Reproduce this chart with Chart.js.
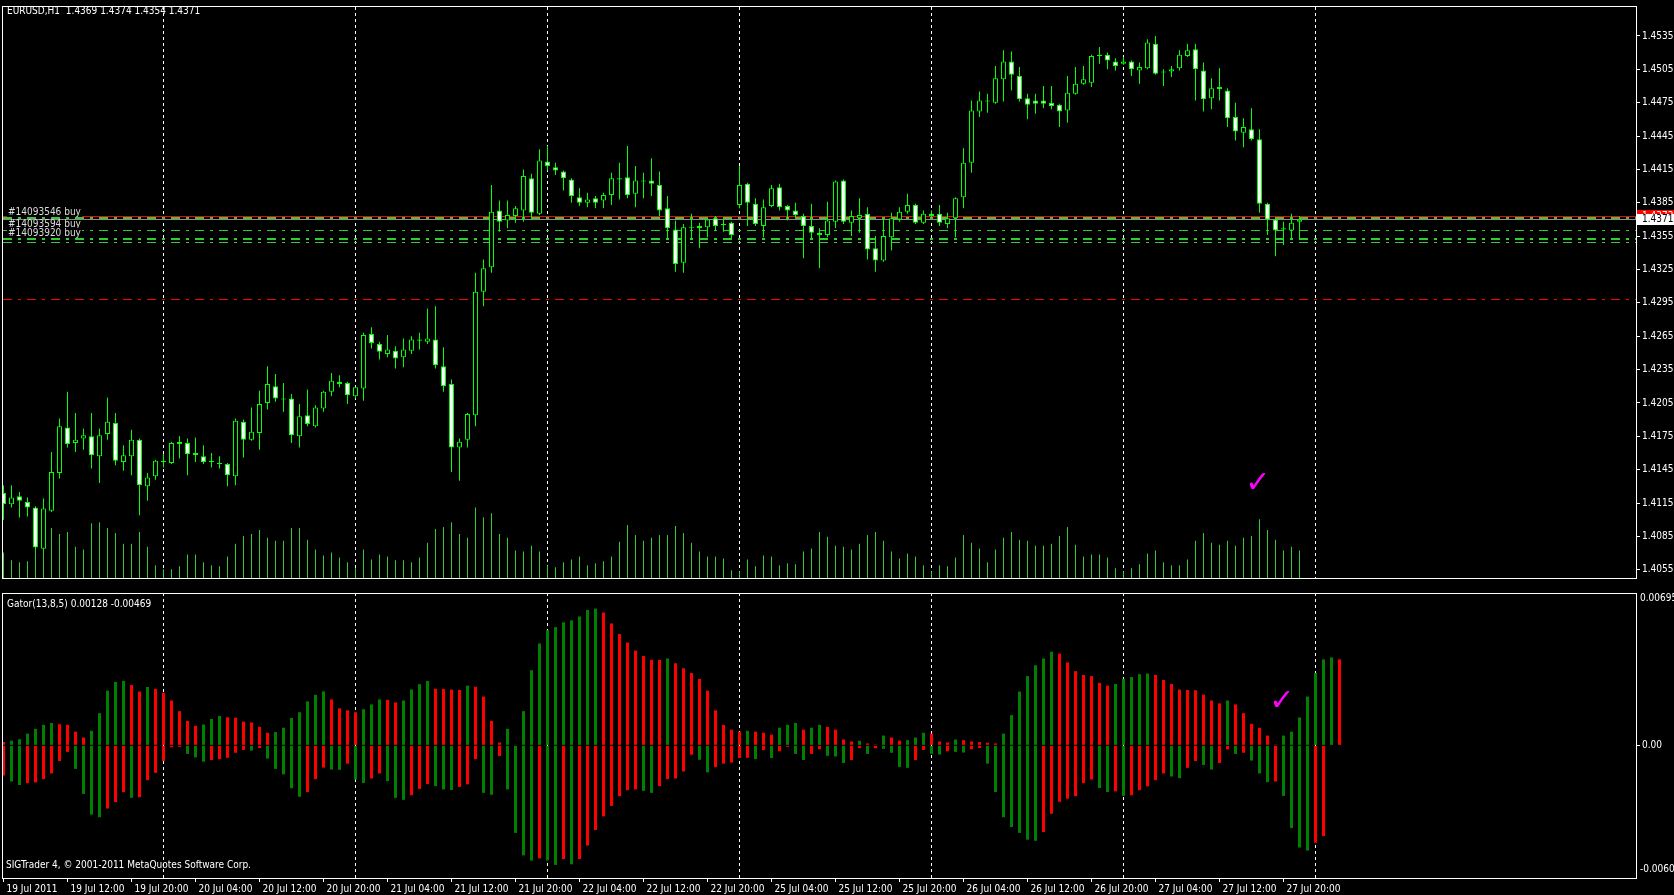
<!DOCTYPE html>
<html>
<head>
<meta charset="utf-8">
<title>EURUSD,H1 Gator</title>
<script src="https://cdn.jsdelivr.net/npm/chart.js@4.4.1/dist/chart.umd.min.js"></script>
<style>
  html,body{margin:0;padding:0;background:#000;overflow:hidden}
  #wrap{position:relative;width:1674px;height:895px;background:#000}
  .pane{position:absolute;left:0;width:1674px}
  #pricePane{top:0;height:586px}
  #gatorPane{top:586px;height:309px}
  canvas{display:block}
</style>
</head>
<body>
<div id="wrap">
  <div class="pane" id="pricePane"><canvas id="priceChart"></canvas></div>
  <div class="pane" id="gatorPane"><canvas id="gatorChart"></canvas></div>
</div>
<script>
// ---- hourly bars, 19 Jul 04:00 .. 27 Jul 22:00 ----
const opens = [
  1.4124,1.4114,1.4121,1.4116,1.4111,1.4074,1.4108,1.4142,1.4183,1.4169,
  1.4173,1.4175,1.4157,1.4177,1.4187,1.4152,1.4157,1.4172,1.4130,1.4139,
  1.4153,1.4151,1.4170,1.4169,1.4160,1.4157,1.4152,1.4151,1.4150,1.4139,
  1.4188,1.4172,1.4178,1.4205,1.4220,1.4209,1.4209,1.4175,1.4194,1.4184,
  1.4200,1.4215,1.4224,1.4223,1.4211,1.4218,1.4267,1.4258,1.4249,1.4252,
  1.4246,1.4252,1.4262,1.4260,1.4262,1.4238,1.4222,1.4165,1.4172,1.4194,
  1.4305,1.4327,1.4378,1.4369,1.4373,1.4378,1.4407,1.4375,1.4422,1.4417,
  1.4413,1.4406,1.4390,1.4385,1.4389,1.4387,1.4392,1.4406,1.4408,1.4393,
  1.4405,1.4405,1.4401,1.4380,1.4361,1.4331,1.4363,1.4364,1.4363,1.4371,
  1.4365,1.4367,1.4383,1.4402,1.4384,1.4364,1.4382,1.4399,1.4382,1.4378,
  1.4373,1.4364,1.4358,1.4356,1.4368,1.4405,1.4367,1.4371,1.4375,1.4344,
  1.4333,1.4354,1.4370,1.4377,1.4383,1.4367,1.4375,1.4375,1.4366,1.4371,
  1.4390,1.4421,1.4467,1.4477,1.4475,1.4496,1.4512,1.4499,1.4479,1.4477,
  1.4477,1.4475,1.4473,1.4468,1.4483,1.4492,1.4493,1.4517,1.4518,1.4512,
  1.4510,1.4512,1.4504,1.4506,1.4528,1.4502,1.4503,1.4506,1.4517,1.4523,
  1.4504,1.4479,1.4489,1.4486,1.4462,1.4448,1.4451,1.4442,1.4384,1.4370,
  1.4361,1.4360,1.4368
];
const highs = [
  1.4131,1.4131,1.4125,1.4120,1.4112,1.4119,1.4161,1.4191,1.4215,1.4196,
  1.4182,1.4196,1.4182,1.4210,1.4196,1.4167,1.4181,1.4173,1.4142,1.4154,
  1.4159,1.4170,1.4175,1.4173,1.4174,1.4167,1.4160,1.4157,1.4151,1.4191,
  1.4190,1.4201,1.4216,1.4238,1.4231,1.4223,1.4213,1.4204,1.4217,1.4203,
  1.4216,1.4232,1.4230,1.4224,1.4219,1.4268,1.4273,1.4260,1.4266,1.4256,
  1.4263,1.4265,1.4268,1.4290,1.4292,1.4255,1.4226,1.4173,1.4196,1.4322,
  1.4334,1.4401,1.4387,1.4387,1.4382,1.4415,1.4411,1.4433,1.4436,1.4421,
  1.4414,1.4407,1.4398,1.4394,1.4391,1.4394,1.4412,1.4421,1.4436,1.4418,
  1.4412,1.4425,1.4413,1.4391,1.4369,1.4366,1.4375,1.4367,1.4371,1.4373,
  1.4371,1.4368,1.4418,1.4403,1.4389,1.4388,1.4401,1.4402,1.4383,1.4385,
  1.4375,1.4384,1.4362,1.4386,1.4405,1.4406,1.4378,1.4389,1.4381,1.4355,
  1.4371,1.4376,1.4381,1.4393,1.4384,1.4378,1.4378,1.4383,1.4376,1.4390,
  1.4434,1.4477,1.4485,1.4483,1.4508,1.4522,1.4521,1.4507,1.4483,1.4483,
  1.4490,1.4490,1.4474,1.4499,1.4507,1.4508,1.4518,1.4525,1.4520,1.4515,
  1.4516,1.4513,1.4511,1.4532,1.4535,1.4505,1.4508,1.4522,1.4528,1.4528,
  1.4511,1.4497,1.4506,1.4488,1.4475,1.4461,1.4470,1.4451,1.4385,1.4371,
  1.4368,1.4375,1.4373
];
const lows = [
  1.4100,1.4111,1.4102,1.4103,1.4074,1.4073,1.4107,1.4137,1.4165,1.4161,
  1.4163,1.4146,1.4133,1.4172,1.4149,1.4144,1.4140,1.4104,1.4117,1.4136,
  1.4147,1.4150,1.4155,1.4140,1.4152,1.4150,1.4147,1.4146,1.4130,1.4131,
  1.4156,1.4171,1.4163,1.4199,1.4206,1.4197,1.4169,1.4165,1.4184,1.4183,
  1.4197,1.4211,1.4219,1.4204,1.4209,1.4207,1.4254,1.4244,1.4246,1.4236,
  1.4237,1.4249,1.4253,1.4258,1.4236,1.4215,1.4143,1.4135,1.4165,1.4184,
  1.4292,1.4322,1.4359,1.4362,1.4367,1.4368,1.4370,1.4374,1.4414,1.4410,
  1.4396,1.4385,1.4382,1.4381,1.4380,1.4380,1.4383,1.4388,1.4389,1.4381,
  1.4389,1.4391,1.4373,1.4352,1.4323,1.4322,1.4352,1.4344,1.4354,1.4360,
  1.4359,1.4353,1.4380,1.4364,1.4364,1.4354,1.4381,1.4378,1.4369,1.4371,
  1.4335,1.4353,1.4326,1.4354,1.4362,1.4366,1.4355,1.4358,1.4334,1.4323,
  1.4332,1.4342,1.4368,1.4375,1.4366,1.4366,1.4372,1.4364,1.4362,1.4354,
  1.4380,1.4412,1.4462,1.4466,1.4474,1.4476,1.4486,1.4476,1.4460,1.4465,
  1.4470,1.4469,1.4453,1.4457,1.4482,1.4491,1.4489,1.4510,1.4505,1.4504,
  1.4509,1.4499,1.4492,1.4505,1.4500,1.4490,1.4498,1.4504,1.4516,1.4477,
  1.4467,1.4469,1.4477,1.4453,1.4441,1.4435,1.4441,1.4376,1.4356,1.4337,
  1.4347,1.4352,1.4352
];
const closes = [
  1.4114,1.4120,1.4117,1.4111,1.4075,1.4110,1.4143,1.4184,1.4168,1.4172,
  1.4176,1.4158,1.4176,1.4188,1.4153,1.4158,1.4172,1.4131,1.4138,1.4153,
  1.4152,1.4169,1.4168,1.4159,1.4158,1.4152,1.4153,1.4150,1.4140,1.4189,
  1.4172,1.4179,1.4204,1.4222,1.4209,1.4208,1.4176,1.4193,1.4186,1.4201,
  1.4215,1.4225,1.4222,1.4212,1.4219,1.4266,1.4259,1.4251,1.4253,1.4245,
  1.4253,1.4262,1.4261,1.4263,1.4239,1.4220,1.4165,1.4170,1.4195,1.4305,
  1.4326,1.4377,1.4368,1.4374,1.4380,1.4409,1.4376,1.4423,1.4418,1.4414,
  1.4407,1.4391,1.4385,1.4388,1.4385,1.4392,1.4407,1.4407,1.4392,1.4405,
  1.4404,1.4402,1.4378,1.4362,1.4330,1.4363,1.4362,1.4362,1.4370,1.4364,
  1.4366,1.4356,1.4401,1.4385,1.4366,1.4381,1.4398,1.4381,1.4378,1.4374,
  1.4364,1.4358,1.4356,1.4369,1.4404,1.4368,1.4373,1.4374,1.4343,1.4333,
  1.4355,1.4371,1.4377,1.4383,1.4367,1.4375,1.4373,1.4367,1.4371,1.4389,
  1.4421,1.4468,1.4477,1.4476,1.4497,1.4512,1.4500,1.4478,1.4473,1.4474,
  1.4474,1.4472,1.4467,1.4484,1.4492,1.4496,1.4517,1.4518,1.4513,1.4508,
  1.4512,1.4505,1.4507,1.4529,1.4501,1.4503,1.4505,1.4518,1.4522,1.4505,
  1.4478,1.4488,1.4487,1.4461,1.4449,1.4453,1.4442,1.4384,1.4370,1.4360,
  1.4362,1.4367,1.4370
];
// tick volume
const volumes = [
  260,180,160,170,350,360,510,450,470,320,
  290,560,570,510,460,350,350,470,320,130,
  90,90,120,240,240,160,130,120,220,350,
  430,450,490,410,380,380,510,510,390,290,
  230,260,210,160,100,290,190,240,220,180,
  180,160,210,360,500,520,570,450,410,720,
  620,660,450,410,280,270,330,270,130,110,
  160,190,220,130,150,170,220,370,540,440,
  380,410,440,440,530,460,360,270,220,220,
  200,80,70,190,120,230,220,130,150,140,
  270,300,470,420,330,320,290,350,440,470,
  380,270,200,250,220,130,70,130,120,210,
  440,360,300,160,290,410,470,390,380,330,
  330,350,430,520,340,220,240,240,210,100,
  70,100,140,250,280,160,130,130,190,380,
  460,360,340,380,330,410,430,600,490,390,
  280,320,280
];
// Gator(13,8,5) histograms, in units of 0.00001 (upper shifted 5 bars, lower 3 bars)
const gatorUp = [
  16,22,28,54,76,94,103,97,94,63,
  36,67,148,251,291,296,277,247,268,259,
  241,206,157,112,90,96,121,135,129,127,
  109,105,85,58,61,81,126,152,202,232,
  248,211,170,161,152,166,188,211,209,197,
  206,257,281,296,260,259,256,254,274,269,
  224,112,13,76,3,157,345,468,529,543,
  565,574,592,622,628,610,560,511,472,435,
  410,393,392,399,377,354,332,305,251,161,
  94,72,63,67,63,58,49,81,94,103,
  72,81,94,85,72,27,18,21,9,4,
  45,36,22,24,36,58,54,18,13,27,
  24,18,15,12,9,54,139,247,318,368,
  399,430,421,381,341,323,318,287,274,282,
  305,314,327,330,323,300,282,256,254,253,
  233,206,193,206,188,148,99,81,45,4,
  45,63,128,224,332,395,404,395
];
const gatorDown = [
  138,166,182,173,170,155,129,72,30,108,
  223,318,330,290,260,215,241,238,160,126,
  72,9,7,39,55,75,67,63,57,34,
  21,24,12,61,108,133,197,236,214,155,
  102,111,112,84,157,173,152,129,164,241,
  250,229,200,178,187,202,205,191,179,63,
  218,227,49,202,402,505,529,519,528,549,
  522,546,522,460,389,326,278,233,206,202,
  209,218,187,155,152,120,43,66,124,99,
  84,79,58,57,63,22,58,27,7,39,
  67,39,18,48,51,81,67,13,39,13,
  16,34,99,103,67,21,39,42,27,30,
  33,18,12,84,214,330,375,402,433,438,
  398,314,259,245,233,173,157,196,214,211,
  232,229,206,188,160,129,143,151,103,72,
  90,111,81,18,39,34,70,129,169,166,
  232,380,469,483,447,416
];

const timeLabels = ['19 Jul 2011','19 Jul 12:00','19 Jul 20:00','20 Jul 04:00','20 Jul 12:00','20 Jul 20:00',
  '21 Jul 04:00','21 Jul 12:00','21 Jul 20:00','22 Jul 04:00','22 Jul 12:00','22 Jul 20:00',
  '25 Jul 04:00','25 Jul 12:00','25 Jul 20:00','26 Jul 04:00','26 Jul 12:00','26 Jul 20:00',
  '27 Jul 04:00','27 Jul 12:00','27 Jul 20:00'];
const labelStep = 8;                         // bars between time labels
const daySepBars = [20,44,68,92,116,140,164]; // first bar of each day
const priceTicks = [1.4055,1.4085,1.4115,1.4145,1.4175,1.4205,1.4235,1.4265,1.4295,
  1.4325,1.4355,1.4385,1.4415,1.4445,1.4475,1.4505,1.4535];

const quote = [1.4369,1.4374,1.4354,1.4371];  // header O H L C
const askLevel = 1.4373, bidLevel = 1.4370, stopLevel = 1.4298;
const orderLevels = [1.4371,1.4360,1.4352,1.4349];
const orderTickets = ['#14093546 buy','#14093594 buy','#14093920 buy'];
const gatorHeader = [0.00128,-0.00469];

// ---- look ----
const FONT = "'DejaVu Sans Condensed','Liberation Sans',sans-serif";
const FSIZE = 10;
const CANDLE = '#00ff00', VOL = '#32cd32', LINEG = '#32cd32', RED = '#ff0000', GGREEN = '#008000';
Chart.defaults.font.family = FONT;
Chart.defaults.font.size = FSIZE;
Chart.defaults.color = '#fff';

const X_MIN = -0.0625, X_MAX = 204.0625;
const idx = closes.map((_, i) => i);

function sepLines(ctx, a, x) {
  ctx.save();
  ctx.strokeStyle = '#fff'; ctx.lineWidth = 1; ctx.setLineDash([3, 3]);
  daySepBars.forEach(b => {
    const px = x.getPixelForValue(b);
    ctx.beginPath(); ctx.moveTo(px, a.top - 1); ctx.lineTo(px, a.bottom); ctx.stroke();
  });
  ctx.restore();
}
function hLine(ctx, a, py, color, w, dash) {
  const yy = w % 2 ? Math.round(py - 0.5) + 0.5 : Math.round(py);
  ctx.strokeStyle = color; ctx.lineWidth = w; ctx.setLineDash(dash);
  ctx.beginPath(); ctx.moveTo(a.left, yy); ctx.lineTo(a.right, yy); ctx.stroke();
}
function tick(ctx) { ctx.font = FSIZE + 'px ' + FONT; ctx.textBaseline = 'middle'; ctx.textAlign = 'left'; }

const priceExtras = {
  id: 'priceExtras',
  beforeDatasetsDraw(chart) {
    const {ctx, chartArea: a, scales: {x, y}} = chart;
    ctx.save();
    sepLines(ctx, a, x);
    const dd = [9, 6, 3, 6];
    hLine(ctx, a, y.getPixelForValue(stopLevel), RED, 1, dd);
    orderLevels.forEach((p, i) => hLine(ctx, a, y.getPixelForValue(p), LINEG, i % 2 ? 1 : 2, dd));
    hLine(ctx, a, y.getPixelForValue(askLevel), RED, 1, []);
    hLine(ctx, a, y.getPixelForValue(bidLevel), '#8c8c8c', 1, []);
    ctx.restore();
  },
  afterDraw(chart) {
    const {ctx, chartArea: a, scales: {x, y}} = chart;
    ctx.save();
    ctx.setLineDash([]);
    ctx.strokeStyle = '#fff'; ctx.lineWidth = 1;
    ctx.strokeRect(a.left - 0.5, a.top - 1.5, a.right - a.left + 1, a.bottom - a.top + 2);
    tick(ctx);
    ctx.fillStyle = '#fff';
    ctx.fillText('EURUSD,H1  ' + quote.map(v => v.toFixed(4)).join(' '), 7, 11);
    // order tickets
    orderTickets.forEach((t, i) => {
      const py = y.getPixelForValue(orderLevels[i]) - 6;
      const w = ctx.measureText(t).width;
      ctx.fillStyle = '#000'; ctx.fillRect(7, Math.round(py) - 5, w + 2, 10);
      ctx.fillStyle = '#dcdcdc'; ctx.fillText(t, 8, py);
    });
    // price boxes on the axis
    const ya = Math.round(y.getPixelForValue(askLevel)), yb = Math.round(y.getPixelForValue(bidLevel));
    ctx.fillStyle = RED; ctx.fillRect(a.right + 1, ya - 6, 37, 11);
    ctx.fillStyle = '#fff'; ctx.fillText(askLevel.toFixed(4), a.right + 6, ya);
    ctx.fillStyle = '#fff'; ctx.fillRect(a.right + 1, yb - 5, 37, 11);
    ctx.fillStyle = '#000'; ctx.fillText(quote[3].toFixed(4), a.right + 6, yb + 0.5);
    // check mark
    ctx.fillStyle = '#ff00ff'; ctx.textAlign = 'center';
    ctx.font = "bold 30px 'DejaVu Sans'";
    ctx.fillText('\u2713', x.getPixelForValue(156.8), y.getPixelForValue(1.4132));
    ctx.restore();
  }
};

const gatorExtras = {
  id: 'gatorExtras',
  beforeDatasetsDraw(chart) {
    const {ctx, chartArea: a, scales: {x}} = chart;
    sepLines(ctx, a, x);
  },
  afterDraw(chart) {
    const {ctx, chartArea: a, scales: {x, y}} = chart;
    ctx.save();
    ctx.setLineDash([]);
    ctx.strokeStyle = '#fff'; ctx.lineWidth = 1;
    ctx.strokeRect(a.left - 0.5, a.top - 0.5, a.right - a.left + 1, a.bottom - a.top + 1);
    tick(ctx);
    ctx.fillStyle = '#fff';
    ctx.fillText('Gator(13,8,5) ' + gatorHeader.map(v => v.toFixed(5)).join(' '), 7, a.top + 10);
    ctx.fillText('SIGTrader 4, \u00a9 2001-2011 MetaQuotes Software Corp.', 6, a.bottom - 13);
    ctx.fillText(y.max.toFixed(5), a.right + 4, a.top + 4.5);
    ctx.fillText(y.min.toFixed(5), a.right + 4, a.bottom - 9);
    ctx.fillStyle = '#ff00ff'; ctx.textAlign = 'center';
    ctx.font = "bold 30px 'DejaVu Sans'";
    ctx.fillText('\u2713', x.getPixelForValue(159.8), y.getPixelForValue(0.00196));
    ctx.restore();
  }
};

const bearish = i => closes[i] < opens[i];

new Chart(document.getElementById('priceChart'), {
  type: 'bar',
  data: {
    datasets: [
      {label: 'Body', data: idx.map(i => ({x: i, y: [opens[i], closes[i]]})),
       backgroundColor: c => bearish(c.dataIndex) ? '#ffffff' : '#000000',
       borderColor: CANDLE, borderWidth: 1, borderSkipped: false, minBarLength: 1,
       barThickness: 5, grouped: false, inflateAmount: 0, order: 0},
      {label: 'Wick', data: idx.map(i => ({x: i, y: [lows[i], highs[i]]})),
       backgroundColor: CANDLE, barThickness: 1, grouped: false, inflateAmount: 0, order: 1},
      {label: 'Volume', data: idx.map(i => ({x: i, y: volumes[i]})), yAxisID: 'yVol',
       backgroundColor: VOL, barThickness: 1, grouped: false, inflateAmount: 0, order: 2}
    ]
  },
  options: {
    responsive: true, maintainAspectRatio: false, animation: false,
    layout: {padding: {left: 3, top: 3, right: 0, bottom: 1}},
    plugins: {legend: {display: false}, tooltip: {enabled: false}},
    scales: {
      x: {type: 'linear', min: X_MIN, max: X_MAX, offset: false, display: false, grid: {offset: false}},
      y: {position: 'right', min: 1.40476, max: 1.45601,
          afterFit: s => { s.width = 38; },
          afterBuildTicks: s => { s.ticks = priceTicks.map(v => ({value: v})); },
          ticks: {autoSkip: false, padding: 2, color: '#fff', callback: v => v.toFixed(4)},
          grid: {drawOnChartArea: false, color: '#fff', tickLength: 4},
          border: {display: false}},
      yVol: {display: false, min: 0, max: 5820}
    }
  },
  plugins: [priceExtras]
});

const upColor = c => { const i = c.dataIndex; return i > 0 && gatorUp[i] > gatorUp[i - 1] ? GGREEN : RED; };
const dnColor = c => { const i = c.dataIndex; return i > 0 && gatorDown[i] > gatorDown[i - 1] ? GGREEN : RED; };

new Chart(document.getElementById('gatorChart'), {
  type: 'bar',
  data: {
    datasets: [
      {label: 'Upper', data: gatorUp.map((v, i) => ({x: i, y: v / 1e5})),
       backgroundColor: upColor, barThickness: 3, grouped: false, inflateAmount: 0},
      {label: 'Lower', data: gatorDown.map((v, i) => ({x: i, y: -v / 1e5})),
       backgroundColor: dnColor, barThickness: 3, grouped: false, inflateAmount: 0}
    ]
  },
  options: {
    responsive: true, maintainAspectRatio: false, animation: false,
    layout: {padding: {left: 3, top: 2, right: 0, bottom: 0}},
    plugins: {legend: {display: false}, tooltip: {enabled: false}},
    scales: {
      x: {type: 'linear', min: X_MIN, max: X_MAX, offset: false,
          afterFit: s => { s.height = 17; },
          afterBuildTicks: s => { s.ticks = timeLabels.map((_, i) => ({value: i * labelStep})); },
          ticks: {autoSkip: false, maxRotation: 0, minRotation: 0, align: 'start', labelOffset: 3,
                  padding: 1, color: '#fff', callback: (v, i) => timeLabels[i]},
          grid: {drawOnChartArea: false, color: '#fff', tickLength: 4, offset: false},
          border: {display: false}},
      y: {position: 'right', min: -0.00609, max: 0.00695,
          afterFit: s => { s.width = 38; },
          afterBuildTicks: s => { s.ticks = [{value: 0}]; },
          ticks: {padding: 2, color: '#fff', callback: v => v.toFixed(2)},
          grid: {drawOnChartArea: false, color: '#fff', tickLength: 4},
          border: {display: false}}
    }
  },
  plugins: [gatorExtras]
});
</script>
</body>
</html>
